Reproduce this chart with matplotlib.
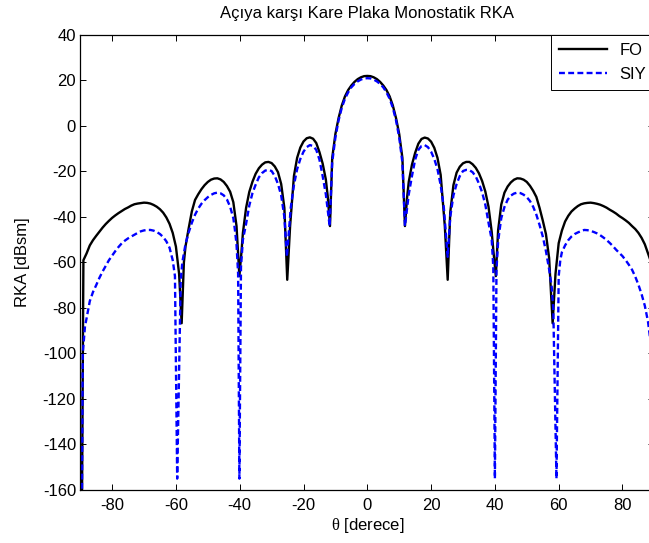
from __future__ import annotations

import matplotlib

matplotlib.use("Agg")
import matplotlib.pyplot as plt
import numpy as np


# monostatic RCS of the square plate
THETA_FO = [
    -90, -89, -88, -87, -86, -85, -84, -83, -82, -81, -80, -79, -78, -77, -76, -75,
    -74, -73, -72, -71, -70, -69, -68, -67, -66, -65, -64, -63, -62, -61, -60, -59,
    -58.2, -57.5, -57, -56, -55, -54, -53, -52, -51, -50, -49, -48, -47, -46, -45,
    -44, -43, -42, -41, -40.1, -39.4, -39, -38, -37, -36, -35, -34, -33, -32, -31,
    -30, -29, -28, -27, -26, -25.1, -24.2, -23, -22, -21, -20, -19, -18, -17, -16,
    -15, -14, -13, -12.4, -11.7, -11, -10, -9, -8, -7, -6, -5, -4, -3, -2, -1, 0,
    1, 2, 3, 4, 5, 6, 7, 8, 9, 10, 11, 11.8, 12.5, 13, 14, 15, 16, 17, 18, 19, 20,
    21, 22, 23, 24.3, 25.2, 26, 27, 28, 29, 30, 31, 32, 33, 34, 35, 36, 37, 38, 39,
    39.5, 40.3, 41, 42, 43, 44, 45, 46, 47, 48, 49, 50, 51, 52, 53, 54, 55, 56, 57,
    58.1, 59, 60, 61, 62, 63, 64, 65, 66, 67, 68, 69, 70, 71, 72, 73, 74, 75, 76,
    77, 78, 79, 80, 81, 82, 83, 84, 85, 86, 87, 88, 89, 90,
]
RKA_FO = [
    -300, -59, -56, -52.5, -50.2, -48.3, -46.5, -44.7, -43.1, -41.7, -40.4, -39.3,
    -38.3, -37.4, -36.5, -35.8, -35.0, -34.4, -34.1, -33.9, -33.7, -33.8, -34.1,
    -34.7, -35.5, -36.6, -38.1, -40.2, -43.0, -47.0, -53.0, -65.0,
    -86.7, -60, -53, -45, -37.5, -32.5, -30, -27.8, -26, -24.6, -23.6, -23.1, -23,
    -23.5, -24.6, -26.4, -28.9, -33.5, -44, -66, -54.5, -47, -36, -29, -24.5, -21,
    -18.6, -17, -16, -15.8, -16.3, -17.8, -20.3, -25.5, -36, -67.6, -44, -22, -14,
    -9.5, -6.8, -5.4, -5, -5.6, -7.5, -11.5, -16.5, -23.5, -31, -44, -14, -3.5, 3.5,
    9, 13, 15.8, 17.8, 19.4, 20.6, 21.4, 21.9, 22,
    21.9, 21.4, 20.6, 19.4, 17.8, 15.8, 13, 9, 3.5, -3.5, -14, -44, -31, -24.5, -17,
    -11.8, -7.8, -5.7, -5.1, -5.5, -6.9, -9.6, -14, -21.5, -44, -67.6, -38, -26,
    -20.5, -17.9, -16.4, -15.8, -15.8, -16.8, -18.4, -20.8, -24.2, -28.8, -35.5,
    -46.5, -54.5, -66, -46, -34.5, -29.3, -26.6, -24.8, -23.6, -23, -23.1, -23.6,
    -24.6, -26.3, -28.5, -31.2, -36, -41.5, -47.5, -58, -86.7, -65, -51.5, -46, -42,
    -39.5, -37.6, -36.3, -35.2, -34.4, -34, -33.8, -33.7, -33.9, -34.2, -34.6, -35.2,
    -35.9, -36.8, -37.6, -38.5, -39.6, -40.5, -41.5, -42.6, -44, -45.3, -47, -49.2,
    -52, -56, -60, -300,
]

THETA_SIY = [
    -90, -89.2, -88.5, -88, -87, -86, -85, -84, -83, -82, -81, -80, -79, -78, -77,
    -76, -75, -74, -73, -72, -71, -70, -69, -68, -67, -66, -65, -64, -63, -62, -61,
    -60.3, -59.6, -58.5, -58, -57, -56, -55, -54, -53, -52, -51, -50, -49, -48, -47,
    -46, -45, -44, -43, -42, -41.5, -41, -40.5, -40.1, -39.6, -39, -38, -37, -36,
    -35, -34, -33, -32, -31, -30, -29, -28, -27, -26, -25.2, -24.5, -24, -23, -22,
    -21, -20, -19, -18, -17, -16, -15, -14, -13, -12.3, -11.8, -11, -10, -9, -8, -7,
    -6, -5, -4, -3, -2, -1, 0,
    1, 2, 3, 4, 5, 6, 7, 8, 9, 10, 11, 11.8, 12.3, 13, 14, 15, 16, 17, 18, 19, 20,
    21, 22, 23, 24, 24.5, 25.2, 26, 27, 28, 29, 30, 31, 32, 33, 34, 35, 36, 37, 38,
    39, 39.5, 40.0, 40.5, 41, 41.5, 42, 43, 44, 45, 46, 47, 48, 49, 50, 51, 52, 53,
    54, 55, 56, 57, 57.8, 58.3, 59.3, 60.0, 60.5, 61, 62, 63, 64, 65, 66, 67, 68, 69,
    70, 71, 72, 73, 74, 75, 76, 77, 78, 79, 80, 81, 82, 83, 84, 85, 86, 87, 88, 88.8,
    89.4, 90,
]
RKA_SIY = [
    -300, -100, -88, -84.5, -77, -73, -70, -66.8, -64, -61.5, -59, -57, -55, -53.2,
    -51.6, -50.4, -49.4, -48.6, -47.8, -47, -46.3, -45.9, -45.7, -45.7, -46, -46.6,
    -47.5, -48.8, -50.7, -53.5, -59,
    -66, -155, -68, -60, -52, -46.8, -42.5, -39, -36.3, -34.2, -32.6, -31.3, -30.3,
    -29.6, -29.3, -29.6, -30.5, -32.3, -35.5, -40.5, -45.7, -52, -65, -155, -62, -50,
    -43, -35, -29.5, -25.8, -22.6, -20.7, -19.6, -19.3, -19.8, -22, -25.5, -30.5, -40,
    -57.5, -45, -36, -26, -19, -14.5, -11.3, -9.3, -8.4, -8.8, -10.5, -14.8, -22, -30,
    -38, -44, -16, -5, 2.5, 8, 12, 14.8, 17, 18.5, 19.6, 20.4, 20.9, 21,
    20.9, 20.4, 19.6, 18.5, 17, 14.8, 12, 8, 2.5, -5, -16, -44, -38, -30, -22, -14.8,
    -10.5, -8.8, -8.4, -9.3, -11.3, -14.5, -19, -26, -36, -45, -57.5, -40, -30.5,
    -25.5, -22, -19.8, -19.3, -19.4, -20.3, -22.2, -25.3, -29.2, -34.6, -42.5, -50,
    -62, -155, -63, -51, -45.5, -40.5, -35.6, -32.4, -30.6, -29.7, -29.3, -29.5,
    -30.2, -31.3, -33, -35.5, -39, -43.5, -48.5, -55, -63, -70.6, -80, -155, -66, -59,
    -55.5, -52.5, -50.2, -48.6, -47.5, -46.8, -46.2, -45.7, -45.8, -46.1,
    -46.6, -47.2, -48, -49, -50.1, -51.4, -52.8, -54.4, -55.8, -57.2, -59, -61, -63.2,
    -66.2, -69.8, -74, -79, -86, -95, -110, -300,
]

X_TICKS = [-80, -60, -40, -20, 0, 20, 40, 60, 80]
Y_TICKS = [-160, -140, -120, -100, -80, -60, -40, -20, 0, 20, 40]


def main() -> None:
    plt.rcParams["font.family"] = ["Liberation Sans", "DejaVu Sans"]
    plt.rcParams["font.size"] = 12
    plt.rcParams["axes.unicode_minus"] = False
    plt.rcParams["mathtext.fontset"] = "custom"
    plt.rcParams["mathtext.rm"] = "Liberation Serif"

    fig = plt.figure(figsize=(6.49, 5.43), dpi=100)
    # the original axes runs slightly past the right edge of the picture
    ax = fig.add_axes([0.1236, 0.0976, 0.8847, 0.838])

    ax.plot(THETA_FO, RKA_FO, color="black", lw=1.7, label="FO")
    ax.plot(THETA_SIY, RKA_SIY, color="#0000ff", lw=1.7, dashes=(2.5, 1.4), label="SIY")

    ax.set_xlim(-90, 90)
    ax.set_ylim(-160, 40)
    ax.set_xticks(X_TICKS)
    ax.set_yticks(Y_TICKS)
    ax.tick_params(direction="in", length=4.3, width=0.7, top=True, right=True,
                   labelsize=12)
    ax.tick_params(axis="x", pad=6)
    ax.tick_params(axis="y", pad=3)
    for spine in ax.spines.values():
        spine.set_linewidth(0.9)

    ax.set_title("Açıya karşı Kare Plaka Monostatik RKA", fontsize=12, pad=12)
    ax.set_xlabel(r"$\mathrm{\theta}$ [derece]", labelpad=2)
    ax.set_ylabel("RKA [dBsm]", labelpad=9)

    leg = ax.legend(
        loc="upper right",
        borderaxespad=0,
        fancybox=False,
        framealpha=1,
        edgecolor="black",
        handlelength=2.9,
        handletextpad=0.72,
        labelspacing=0.5,
        borderpad=0.5,
        fontsize=12,
    )
    leg.get_frame().set_linewidth(0.7)

    fig.savefig("out.png", dpi=100)
    plt.close(fig)


if __name__ == "__main__":
    main()
